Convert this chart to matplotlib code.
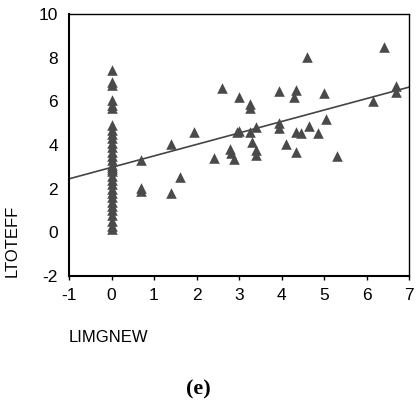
import numpy as np
import matplotlib
matplotlib.use('Agg')
import matplotlib.pyplot as plt

plt.rcParams['axes.unicode_minus'] = False

# points (LIMGNEW, LTOTEFF)
x_zero = [0.0] * 32
y_zero = [7.45, 6.9, 6.75, 6.05, 5.85, 5.7, 4.9, 4.7, 4.5, 4.3, 4.1, 3.9,
          3.7, 3.5, 3.3, 3.1, 3.0, 2.9, 2.8, 2.6, 2.4, 2.2, 2.0, 1.8,
          1.6, 1.4, 1.2, 1.0, 0.8, 0.5, 0.3, 0.15]

x_rest = [0.7, 0.7, 0.7, 1.4, 1.4, 1.6, 1.95, 2.4, 2.6, 2.78, 2.8, 2.88,
          2.95, 3.0, 3.0, 3.25, 3.25, 3.25, 3.3, 3.4, 3.4, 3.4,
          3.95, 3.95, 3.95, 4.1, 4.3, 4.35, 4.35, 4.35, 4.45, 4.6, 4.65,
          4.85, 5.0, 5.05, 5.3, 6.15, 6.4, 6.7, 6.7]
y_rest = [3.3, 2.05, 1.88, 4.05, 1.8, 2.55, 4.6, 3.4, 6.62, 3.8, 3.65, 3.38,
          4.58, 4.65, 6.22, 5.87, 5.7, 4.6, 4.15, 4.82, 3.75, 3.53,
          6.48, 5.0, 4.8, 4.05, 6.2, 6.52, 4.6, 3.7, 4.55, 8.05, 4.85,
          4.55, 6.4, 5.2, 3.5, 6.0, 8.5, 6.7, 6.45]

# regression line end points
fit_x = [-1, 7]
fit_y = [2.45, 6.65]

xs = np.array(x_zero + x_rest)
ys = np.array(y_zero + y_rest)

fig = plt.figure(figsize=(4.16, 4.08), dpi=100)
ax = fig.add_axes([69 / 416, 132 / 408, 340 / 416, 262 / 408])

ax.scatter(xs, ys, marker='^', s=58, color='#4a4a4a', linewidths=0, zorder=3)
ax.plot(fit_x, fit_y, color='#444444', lw=1.2, zorder=2)

ax.set_xlim(-1, 7)
ax.set_ylim(-2, 10)
ax.set_xticks(range(-1, 8))
ax.set_yticks(range(-2, 11, 2))

for side in ['left', 'bottom']:
    ax.spines[side].set_linewidth(1.5)
for side in ['top', 'right']:
    ax.spines[side].set_linewidth(1.0)

font = 'Liberation Sans'
ax.tick_params(axis='x', direction='out', length=3, width=1, pad=6,
               labelsize=12.5, labelfontfamily=font)
ax.tick_params(axis='y', length=0, pad=8, labelsize=12.5, labelfontfamily=font)

fig.text(69 / 416, 1 - 337.5 / 408, 'LIMGNEW', ha='left', va='center',
         fontsize=12, family=font)
fig.text(12.5 / 416, 1 - 277 / 408, 'LTOTEFF', rotation=90, ha='center',
         va='bottom', fontsize=12, family=font)
fig.text(198 / 416, 1 - 389 / 408, '(e)', ha='center', va='center',
         fontsize=16, fontweight='bold', family='Liberation Serif')

fig.savefig('out.png', dpi=100)
